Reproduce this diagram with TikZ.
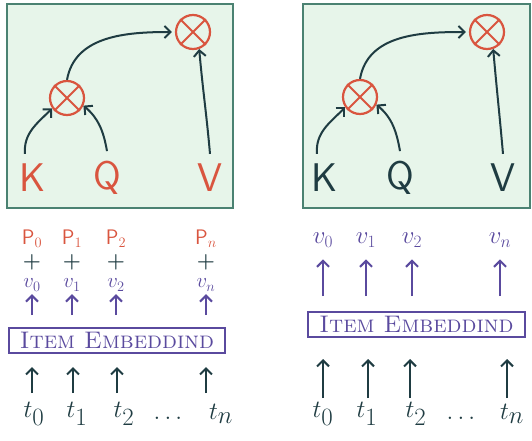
\documentclass[tikz,border=0pt]{standalone}
\usetikzlibrary{arrows.meta}
\definecolor{rd}{HTML}{D9553F}
\definecolor{dk}{HTML}{1F3C42}
\definecolor{pu}{HTML}{5A4A9E}
\definecolor{pfill}{HTML}{E7F5EA}
\definecolor{pline}{HTML}{4B8272}
\begin{document}
\begin{tikzpicture}[x=1pt,y=-1pt,
  panel/.style={draw=pline, fill=pfill, line width=2.2pt},
  mul/.style={circle, draw=rd, line width=2.2pt, minimum size=34pt, inner sep=0pt},
  crs/.style={draw=rd, line width=2pt},
  arr/.style={-{Straight Barb[length=6pt,width=12pt]}, line width=2pt, draw=dk},
  parr/.style={arr, draw=pu},
  big/.style={font=\fontsize{40}{40}\selectfont\sffamily, inner sep=0pt},
  pl/.style={font=\fontsize{21}{21}\selectfont\sffamily, text=rd, inner sep=0pt},
  plus/.style={font=\fontsize{20}{20}\selectfont\boldmath, text=dk, inner sep=0pt},
  vl/.style={font=\fontsize{22}{22}\selectfont, text=pu, inner sep=0pt},
  vr/.style={font=\fontsize{24}{24}\selectfont, text=pu, inner sep=0pt},
  tl/.style={font=\fontsize{36}{36}\selectfont, text=dk, inner sep=0pt},
  emb/.style={draw=pu, line width=2pt, text=pu, minimum width=216pt, minimum height=25pt, inner sep=0pt, font=\fontsize{24}{24}\selectfont\scshape}
]
\useasboundingbox (0,0) rectangle (532,441);

% ---------- left panel ----------
\draw[panel] (7,4) rectangle (233,208);
\node[mul] (m1) at (67,98) {};
\node[mul] (m2) at (193,32) {};
\foreach \m in {m1,m2}{
  \draw[crs] (\m.north west) -- (\m.south east) (\m.north east) -- (\m.south west);
}
\node[big, text=rd] (K1) at (33,178) {K};
\node[big, text=rd] (Q1) at (107,178) {Q};
\node[big, text=rd] (V1) at (210,178) {V};
\draw[arr] ([xshift=-8pt,yshift=10pt]K1.north) to[out=95,in=225] (m1.215);
\draw[arr] ([yshift=10pt]Q1.north) to[out=100,in=-40] (m1.-25);
\draw[arr] (m1.north) to[out=80,in=180] ([xshift=-3pt]m2.west);
\draw[arr] ([yshift=10pt]V1.north) to[out=95,in=-85] (m2.-70);

% ---------- right panel ----------
\draw[panel] (303,4) rectangle (530,208);
\node[mul] (r1) at (360,97) {};
\node[mul] (r2) at (487,32) {};
\foreach \m in {r1,r2}{
  \draw[crs] (\m.north west) -- (\m.south east) (\m.north east) -- (\m.south west);
}
\node[big, text=dk] (K2) at (325,178) {K};
\node[big, text=dk] (Q2) at (400,178) {Q};
\node[big, text=dk] (V2) at (503,178) {V};
\draw[arr] ([xshift=-8pt,yshift=10pt]K2.north) to[out=95,in=225] (r1.215);
\draw[arr] ([yshift=10pt]Q2.north) to[out=100,in=-40] (r1.-25);
\draw[arr] (r1.north) to[out=80,in=180] ([xshift=-3pt]r2.west);
\draw[arr] ([yshift=10pt]V2.north) to[out=95,in=-85] (r2.-70);

% ---------- left bottom ----------
\node[pl] (p0) at (32,239) {P$_0$};
\node[pl] (p1) at (72,239) {P$_1$};
\node[pl] (p2) at (116,239) {P$_2$};
\node[pl] (pn) at (206,239) {P$_n$};
\foreach \i/\x in {0/32,1/72,2/116,n/206}{
  \node[plus] (s\i) at (\x,262) {$+$};
  \node[vl] (v\i) at (\x,285) {$v_\i$};
  \coordinate (va\i) at (\x,315);
  \draw[parr] (va\i) -- ([yshift=-3pt]va\i |- v\i.south);
}
\node[emb] (e1) at (117,340.5) {Item Embeddind};
\node[tl] (t0) at (34,414) {$t_0$};
\node[tl] (t1) at (77,414) {$t_1$};
\node[tl] (t2) at (124,414) {$t_2$};
\node[tl] (dl) at (168,418) {$\ldots$};
\node[tl] (tn) at (221,414) {$t_n$};
\foreach \i/\x in {0/32,1/73,2/117,n/206}{
  \coordinate (ta\i) at (\x,393);
  \draw[arr] (ta\i) -- ([yshift=-13pt]ta\i |- e1.south);
}

% ---------- right bottom ----------
\foreach \i/\x in {0/323,1/366,2/412,n/500}{
  \node[vr] (w\i) at (\x,240) {$v_\i$};
  \coordinate (wa\i) at (\x,296);
  \draw[parr] (wa\i) -- ([yshift=-12pt]wa\i |- w\i.south);
}
\node[emb, minimum width=217pt] (e2) at (416.5,324.5) {Item Embeddind};
\node[tl] (u0) at (323,414) {$t_0$};
\node[tl] (u1) at (367,414) {$t_1$};
\node[tl] (u2) at (416,414) {$t_2$};
\node[tl] (dr) at (461,418) {$\ldots$};
\node[tl] (un) at (512,414) {$t_n$};
\foreach \i/\x in {0/323,1/368,2/410,n/507}{
  \coordinate (ua\i) at (\x,398);
  \draw[arr] (ua\i) -- ([yshift=-21pt]ua\i |- e2.south);
}
\end{tikzpicture}
\end{document}
